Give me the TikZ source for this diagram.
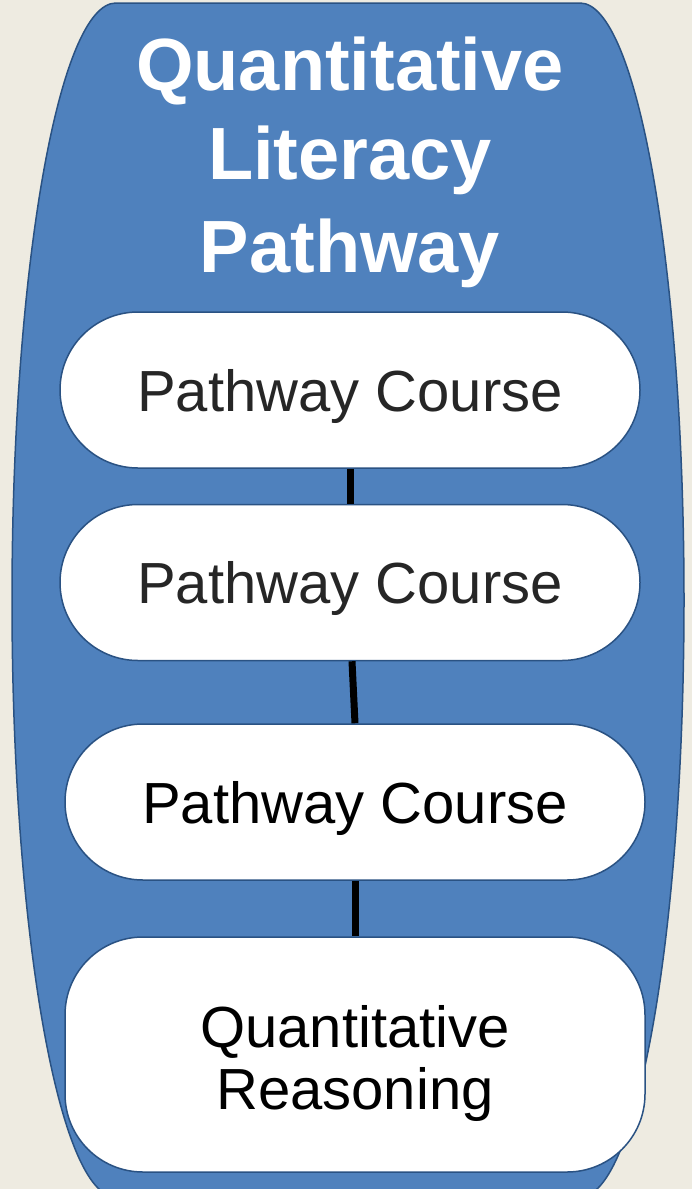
\documentclass[tikz,border=0pt]{standalone}
\usepackage{fontspec}
\setmainfont{Liberation Sans}
\definecolor{bgbeige}{HTML}{EEEBE1}
\definecolor{pathblue}{HTML}{4F81BD}
\definecolor{edgeblue}{HTML}{2A5283}
\definecolor{darktext}{HTML}{262626}
\begin{document}
\begin{tikzpicture}[x=1pt,y=-1pt,
  coursebox/.style={draw=edgeblue, line width=1.5pt, fill=white, rounded corners=78pt,
    minimum width=580pt, inner sep=0pt, align=center,
    font=\fontsize{58}{62}\selectfont},
  titletext/.style={text=white, inner sep=0pt, anchor=base,
    font=\bfseries\fontsize{74}{90}\selectfont},
  link/.style={line width=7pt, draw=black}
]
\useasboundingbox (0,0) rectangle (692,1189);
\fill[bgbeige] (0,0) rectangle (692,1189);
% big pathway container
\path[fill=pathblue, draw=edgeblue, line width=1.5pt]
  (116,3) .. controls (58.6,3) and (12,270.3) .. (12,600)
  .. controls (12,929.7) and (58.6,1197) .. (116,1197)
  -- (580,1197)
  .. controls (637.4,1197) and (684,929.7) .. (684,600)
  .. controls (684,270.3) and (637.4,3) .. (580,3) -- cycle;
% title
\node[titletext] (t1) at (350,90) {Quantitative};
\node[titletext] (t2) at (350,179) {Literacy};
\node[titletext] (t3) at (350,272) {Pathway};
% course boxes
\node[coursebox, minimum height=156pt, text depth=0pt, text=darktext] (c1) at (350,390) {Pathway Course};
\node[coursebox, minimum height=156pt, text depth=0pt, text=darktext] (c2) at (350,582.5) {Pathway Course};
\node[coursebox, minimum height=156pt, text depth=0pt, text=black] (c3) at (355,802) {Pathway Course};
\node[coursebox, minimum height=235pt, text=black] (c4) at (355,1054.5) {\rule{0pt}{60pt}Quantitative\\Reasoning};
% links
\draw[link] (c1.south) -- (c2.north);
\draw[link] ([xshift=2pt]c2.south) -- (c3.north);
\draw[link] (c3.south) -- (c4.north);
\end{tikzpicture}
\end{document}
